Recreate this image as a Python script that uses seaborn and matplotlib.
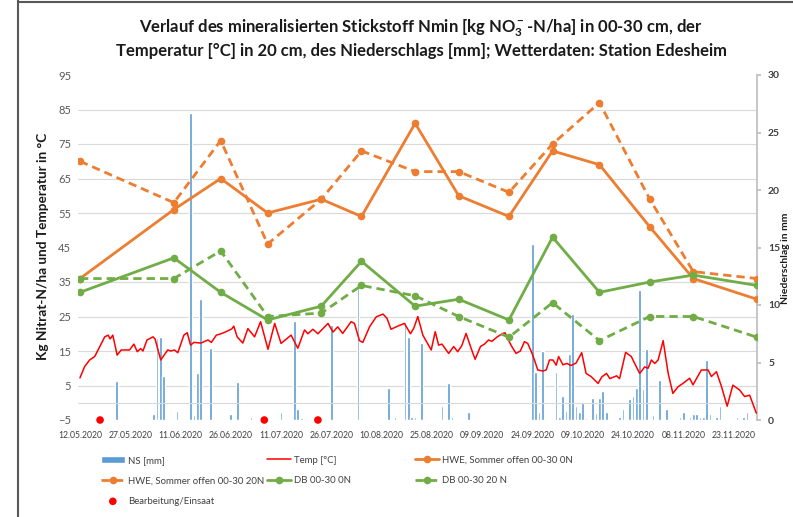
import numpy as np
import pandas as pd
import matplotlib.pyplot as plt
import matplotlib.dates as mdates
from matplotlib.lines import Line2D
import seaborn as sns

start = pd.Timestamp("2020-05-12")

# Nmin sampling (days after 12.05.2020), kg NO3-N/ha
nmin_day = [0, 28, 42, 56, 72, 84, 100, 113, 128, 141, 155, 170, 183, 202]
hwe_0n = [36, 56, 65, 55, 59, 54, 81, 60, 54, 73, 69, 51, 36, 30]
hwe_20n = [70, 58, 76, 46, 59, 73, 67, 67, 61, 75, 87, 59, 38, 36]
db_0n = [32, 42, 32, 24, 28, 41, 28, 30, 24, 48, 32, 35, 37, 34]
db_20n = [36, 36, 44, 25, 26, 34, 31, 25, 19, 29, 18, 25, 25, 19]

# soil temperature 20 cm (days after start, °C)
temp_day = [0, 1.4, 2.9, 4.4, 5.4, 7.4, 8.4, 9, 9.8, 11.1, 12.3, 14.8, 16.1, 17.1, 18.1,
            18.8, 20, 21.8, 22.4, 24.1, 26.2, 27.1, 28.2, 29.2, 31, 32, 33, 34, 36.1, 38.2,
            39.2, 40.7, 42.1, 43.6, 45.3, 45.9, 46.9, 48.6, 50.1, 52.1, 53.9, 56.1, 58.1, 60,
            63, 65, 67, 68, 69.5, 71, 74, 75.5, 76.9, 78.4, 80.9, 81.9, 83.4, 84.4, 86.4, 88.4,
            90.4, 91.6, 92.8, 94.8, 96.8, 98.6, 99.6, 100.8, 102.3, 104.8, 106, 107, 108, 110,
            111.5, 112.7, 113.9, 115.2, 116.7, 117.9, 119.5, 120.7, 121.9, 122.9, 124.5, 126.2,
            126.8, 128.6, 130.1, 131.4, 132.6, 133.6, 135.1, 136.6, 138.1, 139.1, 140.1, 141.1,
            142.1, 142.8, 144.1, 145.3, 146.5, 148, 149.7, 151, 152.5, 154.6, 155.7, 157.1,
            158.1, 160.1, 161, 162.8, 164.5, 165.5, 167, 168.5, 169.5, 170.5, 171.5, 172.5,
            174, 175.5, 176.9, 178.4, 179.9, 181.9, 182.9, 185.4, 187.4, 188.4, 189.9, 191.4,
            193.1, 194.8, 196.8, 198.3, 199.8, 201.8]
temp_c = [7.2, 10.5, 12.4, 13.4, 15.3, 19.1, 19.6, 18.5, 19.6, 13.8, 15.3, 15.3, 17, 14.8, 15.7,
          15, 18.2, 19.1, 18.5, 12.4, 15.3, 15, 15.3, 14.5, 19.6, 20.3, 16.7, 17.5, 17.3, 18.2,
          17.5, 19.6, 20, 20.6, 21.4, 22.2, 19.1, 17.3, 21.5, 19.1, 23.5, 15.5, 23, 17.2,
          19.6, 15.8, 21.1, 20, 21.3, 20, 23, 20.5, 22, 20.1, 23.5, 23, 18, 17.5, 22, 24.9,
          25.7, 24.5, 21.3, 22.2, 23, 20, 21.6, 25, 19.6, 15.3, 20.6, 16.7, 17, 14.3,
          16.3, 14.8, 16.5, 20.1, 15.8, 12.6, 16.3, 17, 18.2, 17.8, 19.1, 20.1,
          20.3, 16.7, 14.3, 15, 17.7, 17.2, 13.8, 9.5, 9.2, 9.5, 12.4, 12.4,
          10.9, 13.4, 11, 11.4, 10.8, 11.5, 14.5, 8.5, 7.6, 5.6, 7.5, 8.5,
          7, 7.8, 7, 14.6, 13.4, 11.4, 8.5, 10.4, 10, 12.4, 11.4, 12.4,
          18, 8.5, 2.7, 4.6, 5.6, 7.1, 5.2, 9.5, 9.5, 7.6, 9, 4.7,
          -1, 5.1, 3.7, 1.8, 2.2, -3]

# daily precipitation (days after start, mm)
rain_day = [11, 22, 23, 24, 25, 29, 33, 34, 35, 36, 39, 45, 47, 51, 55, 60, 64, 65, 66, 75,
            83, 92, 94, 97, 98, 99, 100, 102, 108, 110, 111, 116, 135, 136, 137, 138, 142,
            143, 144, 145, 146, 147, 148, 149, 150, 151, 153, 154, 155, 156, 157, 161, 162,
            164, 165, 166, 167, 168, 169, 171, 173, 175, 179, 180, 182, 183, 184, 185, 186,
            187, 188, 190, 191, 196, 198, 199, 202]
rain_mm = [3.4, 0.5, 7.1, 7.2, 3.8, 0.8, 26.7, 0.4, 4.1, 10.5, 6.3, 0.5, 3.3, 0.3, 0.3, 0.7,
           8.6, 1.0, 0.2, 8.3, 11.5, 2.8, 0.3, 8.5, 7.2, 0.3, 0.3, 6.7, 1.2, 3.2, 0.3, 0.7,
           15.3, 4.2, 0.7, 6.0, 4.2, 0.3, 2.1, 0.8, 5.7, 9.2, 1.2, 0.7, 1.5, 0.2, 1.9, 0.6,
           1.9, 2.5, 0.7, 0.3, 1.0, 1.8, 2.1, 2.8, 11.3, 2.7, 6.2, 0.4, 3.5, 1.0, 0.3, 0.7,
           0.3, 0.5, 0.5, 0.3, 0.3, 5.2, 0.5, 0.3, 1.2, 0.3, 0.3, 0.7, 0.3]

# Bearbeitung/Einsaat (days after start), shown on the axis floor
bearb_day = [6, 55, 71]
bearb_y = [-5, -5, -5]

def to_dates(days):
    return start + pd.to_timedelta(days, unit="D")

sns.set_theme(style="white")
plt.rcParams["font.family"] = ["Lato", "DejaVu Sans"]
plt.rcParams["mathtext.fontset"] = "custom"
plt.rcParams["mathtext.rm"] = "Lato:bold"
plt.rcParams["mathtext.it"] = "Lato:bold"
plt.rcParams["mathtext.bf"] = "Lato:bold"

W, H = 793, 517
fig = plt.figure(figsize=(W / 100, H / 100), dpi=100)
ax = fig.add_axes([78 / W, 1 - 420 / H, (757 - 78) / W, (420 - 75) / H])
ax2 = ax.twinx()
ax.set_zorder(2)
ax2.set_zorder(1)
ax.patch.set_visible(False)

orange = "#ED7D31"
green = "#70AD47"
blue = "#5B9BD5"
grid = "#D9D9D9"

# precipitation bars on the secondary axis
bars = ax2.bar(to_dates(rain_day), rain_mm, width=0.8, color=blue, label="NS [mm]")

sns.lineplot(x=to_dates(temp_day), y=temp_c, ax=ax, color="#FF0000", lw=1.1,
             label="Temp [°C]")
dash = (0, (3, 1.8))
sns.lineplot(x=to_dates(nmin_day), y=hwe_0n, ax=ax, color=orange, lw=2, marker="o",
             markersize=5.5, markeredgewidth=0, label="HWE, Sommer offen 00-30 0N")
sns.lineplot(x=to_dates(nmin_day), y=hwe_20n, ax=ax, color=orange, lw=2, marker="o",
             markersize=5.5, markeredgewidth=0, linestyle=dash,
             label="HWE, Sommer offen 00-30 20N")
sns.lineplot(x=to_dates(nmin_day), y=db_0n, ax=ax, color=green, lw=2, marker="o",
             markersize=5.5, markeredgewidth=0, label="DB 00-30 0N")
sns.lineplot(x=to_dates(nmin_day), y=db_20n, ax=ax, color=green, lw=2, marker="o",
             markersize=5.5, markeredgewidth=0, linestyle=dash, label="DB 00-30 20 N")
sns.scatterplot(x=to_dates(bearb_day), y=bearb_y, ax=ax, color="#FF0000", s=30,
                edgecolor="none", clip_on=False, zorder=5, label="Bearbeitung/Einsaat")
if ax.get_legend() is not None:
    ax.get_legend().remove()

# axes
ax.set_xlim(start - pd.Timedelta(hours=14), start + pd.Timedelta(days=202))
ax.set_ylim(-5, 95)
ax.set_yticks(np.arange(-5, 96, 10))
ax.set_xticks(pd.date_range(start, periods=14, freq="15D"))
ax.xaxis.set_major_formatter(mdates.DateFormatter("%d.%m.%Y"))
ax.set_xlabel("")
ax.set_ylabel("")
ax2.set_ylabel("")
ax.axhline(0, color=grid, lw=0.8, zorder=0)
ax.grid(False)
ax.tick_params(axis="x", labelsize=6.2, length=0, pad=8, labelcolor="#404040")
ax.tick_params(axis="y", labelsize=8, length=0, pad=5, labelcolor="#595959")

ax2.set_ylim(0, 30)
ax2.set_yticks(np.arange(0, 31, 5))
ax2.set_yticks(np.arange(0, 31, 3), minor=True)
ax2.grid(False)
ax2.grid(axis="y", which="minor", color=grid, lw=0.8)
ax2.set_axisbelow(True)
ax2.tick_params(axis="y", which="minor", length=0)
ax2.tick_params(axis="y", which="major", labelsize=7.5, length=3, color="#BFBFBF",
                pad=5, labelcolor="#404040", right=True)
for t in ax2.get_yticklabels():
    t.set_fontweight("bold")

for s in ax.spines.values():
    s.set_visible(False)
for name, s in ax2.spines.items():
    s.set_visible(name == "right")
ax2.spines["right"].set_color("#BFBFBF")

# texts
fig.text(421 / W, 1 - 38 / H,
         "Verlauf des mineralisierten Stickstoff Nmin [kg NO$_3^-$-N/ha] in 00-30 cm, der\n"
         "Temperatur [°C] in 20 cm, des Niederschlags [mm]; Wetterdaten: Station Edesheim",
         ha="center", va="center", fontsize=12, fontweight="bold", linespacing=1.3,
         color="#1a1a1a")
fig.text(43 / W, 1 - 246 / H, "Kg Nitrat-N/ha und Temperatur in °C", rotation=90,
         ha="center", va="center", fontsize=9.8, fontweight="bold", color="#1a1a1a")
fig.text(786 / W, 1 - 258 / H, "Niederschlag in mm", rotation=90,
         ha="center", va="center", fontsize=7.5, fontweight="bold", color="#1a1a1a")

# legend in three columns
handles, labels = ax.get_legend_handles_labels()
hmap = dict(zip(labels, handles))
hmap["NS [mm]"] = bars
columns = [
    (97, ["NS [mm]", "HWE, Sommer offen 00-30 20N", "Bearbeitung/Einsaat"]),
    (263, ["Temp [°C]", "DB 00-30 0N"]),
    (411, ["HWE, Sommer offen 00-30 0N", "DB 00-30 20 N"]),
]
for x0, labs in columns:
    fig.legend([hmap[l] for l in labs], labs, loc="upper left",
               bbox_to_anchor=(x0 / W, 1 - 452 / H), frameon=False, fontsize=6.9,
               handlelength=2.5, handletextpad=0.3, labelspacing=1.2,
               borderaxespad=0, labelcolor="#404040")

# frame of the original screenshot
fig.add_artist(Line2D([17.5 / W, 1], [1 - 1.5 / H, 1 - 1.5 / H], color="#595959", lw=1.5))
fig.add_artist(Line2D([17.5 / W, 17.5 / W], [0, 1], color="#595959", lw=1.5))

fig.savefig("out.png", dpi=100)
